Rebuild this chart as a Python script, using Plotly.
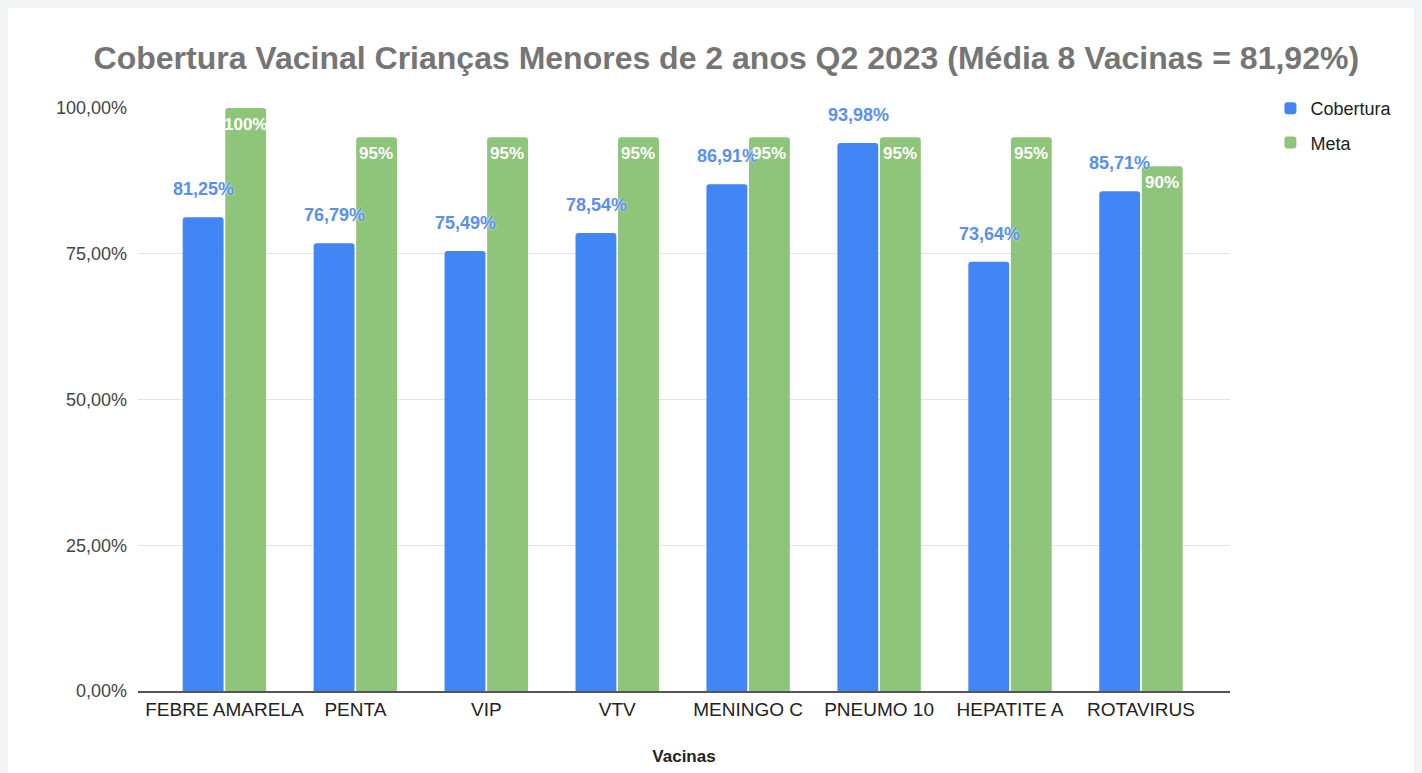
import plotly.graph_objects as go

categories = ["FEBRE AMARELA", "PENTA", "VIP", "VTV", "MENINGO C", "PNEUMO 10", "HEPATITE A", "ROTAVIRUS"]
cobertura = [81.25, 76.79, 75.49, 78.54, 86.91, 93.98, 73.64, 85.71]
meta = [100, 95, 95, 95, 95, 95, 95, 90]
cobertura_labels = ["81,25%", "76,79%", "75,49%", "78,54%", "86,91%", "93,98%", "73,64%", "85,71%"]
meta_labels = ["100%", "95%", "95%", "95%", "95%", "95%", "95%", "90%"]
y_ticks = [0, 25, 50, 75, 100]
y_tick_labels = ["0,00%", "25,00%", "50,00%", "75,00%", "100,00%"]

FONT = "Liberation Sans, Arial, sans-serif"

fig = go.Figure()
fig.add_trace(go.Bar(
    name="Cobertura", x=categories, y=cobertura,
    marker=dict(color="#4285f4", cornerradius=3, line=dict(width=0)),
    legendgroup="a",
))
fig.add_trace(go.Bar(
    name="Meta", x=categories, y=meta,
    marker=dict(color="#8fc47b", cornerradius=3, line=dict(width=0)),
    legendgroup="b",
))

annotations = []
for cat, val, lab in zip(categories, cobertura, cobertura_labels):
    annotations.append(dict(
        x=cat, y=val, xref="x", yref="y", text="<b>" + lab + "</b>",
        showarrow=False, xshift=-21, yshift=28,
        font=dict(family=FONT, size=18, color="#5b8ff0", shadow="0px 0px 2px white"),
    ))
for cat, val, lab in zip(categories, meta, meta_labels):
    annotations.append(dict(
        x=cat, y=val, xref="x", yref="y", text="<b>" + lab + "</b>",
        showarrow=False, xshift=21, yshift=-16,
        font=dict(family=FONT, size=17, color="white"),
    ))

fig.update_layout(
    width=1414, height=765,
    paper_bgcolor="white", plot_bgcolor="white",
    margin=dict(l=130, r=192, t=100, b=82),
    barmode="group", bargap=0.35, bargroupgap=0.04,
    annotations=annotations,
    title=dict(text="<b>Cobertura Vacinal Crianças Menores de 2 anos Q2 2023 (Média 8 Vacinas = 81,92%)</b>",
               x=0.508, xanchor="center", y=0.935, yanchor="middle",
               font=dict(family=FONT, size=32, color="#757575")),
    font=dict(family=FONT, color="#222"),
    legend=dict(x=1.037, y=1.031, xanchor="left", yanchor="top",
                font=dict(family=FONT, size=18, color="#222"),
                tracegroupgap=8, bgcolor="rgba(0,0,0,0)"),
    xaxis=dict(range=[-0.66, 7.68], showgrid=False, showline=True,
               linecolor="#555", linewidth=1.5, ticks="", automargin=False,
               tickfont=dict(family=FONT, size=19, color="#222"),
               title=dict(text="<b>Vacinas</b>", standoff=32,
                          font=dict(family=FONT, size=17, color="#222"))),
    yaxis=dict(range=[0, 100], tickvals=y_ticks, ticktext=y_tick_labels,
               showgrid=True, gridcolor="#e3e3e3", gridwidth=1, automargin=False,
               zeroline=False, showline=False, ticks="", ticklabelstandoff=10,
               tickfont=dict(family=FONT, size=18, color="#444")),
)

fig.write_html("out.html", post_script="document.body.style.background='#f1f3f4';")
